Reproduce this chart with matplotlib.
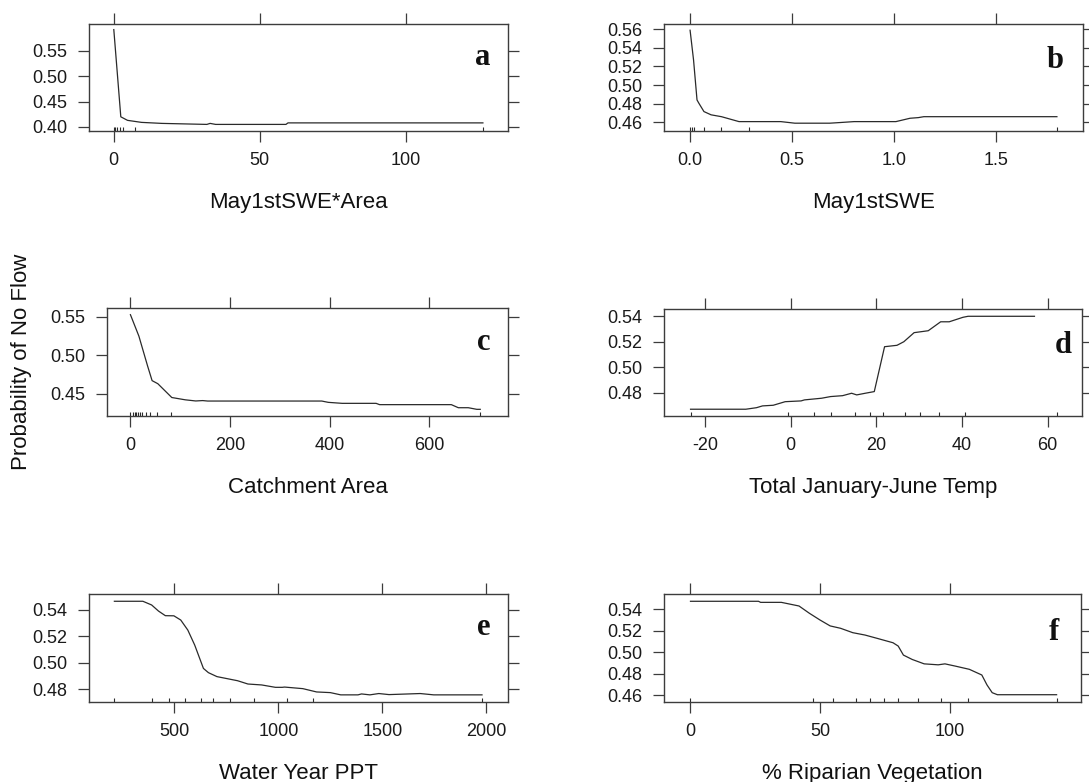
import matplotlib
matplotlib.use("Agg")
import matplotlib.pyplot as plt

# ---- data (partial dependence curves) ----
swe_area_x = [0, 2.4, 4.7, 9.5, 16.5, 31.9, 33, 34.9, 59, 59.7, 126.5]
swe_area_y = [0.592, 0.420, 0.413, 0.409, 0.407, 0.405, 0.407, 0.405, 0.405, 0.408, 0.408]
swe_area_rug = [0, 0.4, 1.2, 2.0, 3.1, 7.1, 126.5]

swe_x = [0, 0.017, 0.034, 0.043, 0.068, 0.103, 0.154, 0.24, 0.445, 0.514, 0.685,
         0.736, 0.805, 1.01, 1.079, 1.12, 1.147, 1.80]
swe_y = [0.559, 0.527, 0.484, 0.4805, 0.4715, 0.468, 0.466, 0.4607, 0.4607, 0.459, 0.459,
         0.4597, 0.4607, 0.4607, 0.4643, 0.465, 0.466, 0.466]
swe_rug = [0, 0.01, 0.02, 0.07, 0.15, 0.29, 1.80]

catch_x = [0, 17, 34.5, 43.5, 55, 83, 110, 131, 145, 155, 384, 397, 425, 493, 500,
           644, 658, 678, 695, 702]
catch_y = [0.553, 0.525, 0.486, 0.467, 0.463, 0.445, 0.442, 0.4405, 0.441, 0.4404, 0.4404,
           0.4387, 0.4374, 0.4374, 0.4357, 0.4357, 0.4317, 0.4317, 0.4296, 0.4296]
catch_rug = [0, 4.8, 8.3, 11.6, 15, 19, 24, 31, 39.4, 53, 81, 702]

temp_x = [-23.4, -10.5, -8.0, -6.6, -4.1, -1.3, 2.4, 3.2, 7.2, 9.3, 12.1, 14.2, 15.4, 17.4,
          19.5, 21.9, 24.8, 26.4, 28.8, 32.1, 35, 37, 40.2, 41.4, 56.9]
temp_y = [0.4671, 0.4671, 0.4683, 0.4697, 0.4702, 0.473, 0.4736, 0.4744, 0.4757, 0.477,
          0.4777, 0.4796, 0.4783, 0.4796, 0.4809, 0.516, 0.5171, 0.5199, 0.527, 0.5285,
          0.5355, 0.5355, 0.5390, 0.5398, 0.5398]
temp_rug = [-23.4, -0.7, 5.4, 9.3, 15, 18.4, 21.5, 26.6, 30.2, 34.7, 40.7, 62.2]

ppt_x = [212, 349, 391, 424, 457, 498, 531, 565, 598, 640, 664, 705, 804, 854, 920, 986,
         1019, 1030, 1118, 1184, 1250, 1300, 1383, 1400, 1440, 1483, 1532, 1682, 1747, 1979]
ppt_y = [0.5466, 0.5466, 0.5438, 0.5392, 0.5357, 0.5356, 0.5324, 0.5248, 0.5135, 0.4958,
         0.4926, 0.4896, 0.4865, 0.484, 0.4833, 0.4815, 0.4815, 0.4817, 0.4805, 0.478,
         0.4775, 0.4758, 0.4758, 0.4765, 0.4758, 0.4768, 0.476, 0.4768, 0.4758, 0.4758]
ppt_rug = [212, 391, 473, 553, 626, 684, 768, 884, 1044, 1169, 1979]

rip_x = [0, 26.2, 27, 35, 41.8, 45.8, 49.9, 53.8, 57.8, 62.5, 67.2, 71.9, 78, 80, 82, 85.4,
         90, 95.4, 98, 102, 107.4, 112.2, 114.2, 116.2, 118.2, 141]
rip_y = [0.5475, 0.5475, 0.5465, 0.5465, 0.5431, 0.5363, 0.530, 0.5245, 0.5223, 0.5182,
         0.516, 0.5129, 0.5088, 0.5057, 0.4973, 0.4932, 0.4891, 0.4882, 0.4891, 0.487,
         0.484, 0.4787, 0.4694, 0.4622, 0.4603, 0.4603]
rip_rug = [0, 47.2, 55, 63.7, 69.1, 74.5, 79.9, 87.7, 96.5, 106.8, 141.3]

# ---- layout ----
W, H = 1089, 782
LINE = "#2a2a2a"
FRAME = "#3c3c3c"
plt.rcParams["font.family"] = ["Liberation Sans", "DejaVu Sans"]

fig = plt.figure(figsize=(W / 100, H / 100), dpi=100)
fig.patch.set_facecolor("white")

panels = [
    # x, y, rug, box(l, t, r, b), xlim, ylim, xticks, xfmt, yticks, xlabel, letter, letter offsets
    (swe_area_x, swe_area_y, swe_area_rug, (89, 24, 508, 131), (-8.5, 135.1), (0.392, 0.603),
     [0, 50, 100], "{:.0f}", [0.40, 0.45, 0.50, 0.55], "May1stSWE*Area", "a", (18, 41)),
    (swe_x, swe_y, swe_rug, (664, 24, 1083, 131), (-0.128, 1.928), (0.4506, 0.5657),
     [0, 0.5, 1.0, 1.5], "{:.1f}", [0.46, 0.48, 0.50, 0.52, 0.54, 0.56], "May1stSWE", "b", (19, 44)),
    (catch_x, catch_y, catch_rug, (107, 308, 508, 416), (-47, 757.7), (0.4209, 0.5617),
     [0, 200, 400, 600], "{:.0f}", [0.45, 0.50, 0.55], "Catchment Area", "c", (18, 42)),
    (temp_x, temp_y, temp_rug, (664, 309, 1082, 416), (-29.6, 68), (0.4618, 0.5455),
     [-20, 0, 20, 40, 60], "{:.0f}", [0.48, 0.50, 0.52, 0.54], "Total January-June Temp", "d", (10, 44)),
    (ppt_x, ppt_y, ppt_rug, (89, 594, 508, 702), (90, 2104), (0.4704, 0.5521),
     [500, 1000, 1500, 2000], "{:.0f}", [0.48, 0.50, 0.52, 0.54], "Water Year PPT", "e", (18, 41)),
    (rip_x, rip_y, rip_rug, (664, 594, 1081, 702), (-10.2, 150.4), (0.4535, 0.5543),
     [0, 50, 100], "{:.0f}", [0.46, 0.48, 0.50, 0.52, 0.54], "% Riparian Vegetation", "f", (22, 46)),
]

for x, y, rug, box, xlim, ylim, xt, xfmt, yt, xlabel, letter, loff in panels:
    l, t, r, b = box
    ax = fig.add_axes([l / W, 1 - b / H, (r - l) / W, (b - t) / H])
    ax.plot(x, y, color=LINE, lw=0.9)
    ax.vlines(rug, 0, 0.04, transform=ax.get_xaxis_transform(), color=LINE, lw=0.8)
    ax.set_xlim(*xlim)
    ax.set_ylim(*ylim)
    ax.set_xticks(xt)
    ax.set_xticklabels([xfmt.format(v) for v in xt])
    ax.set_yticks(yt)
    ax.set_yticklabels(["{:.2f}".format(v) for v in yt])
    ax.tick_params(axis="both", direction="out", length=8, width=0.9, color=FRAME,
                   labelsize=13, labelcolor="#1a1a1a", top=True, right=True)
    ax.tick_params(axis="x", pad=7)
    ax.tick_params(axis="y", pad=7.5)
    for s in ax.spines.values():
        s.set_color(FRAME)
        s.set_linewidth(1.0)
    fig.text((l + r) / 2 / W, 1 - (b + 77) / H, xlabel, ha="center", va="baseline",
             fontsize=16, color="#111111")
    fig.text((r - loff[0]) / W, 1 - (t + loff[1]) / H, letter, ha="right", va="baseline",
             fontsize=22, fontweight="bold", family="Liberation Serif", color="#111111")

fig.text(22 / W, 1 - 362 / H, "Probability of No Flow", rotation=90, ha="center",
         va="center", fontsize=16, color="#111111")

fig.savefig("out.png", dpi=100, facecolor="white")
